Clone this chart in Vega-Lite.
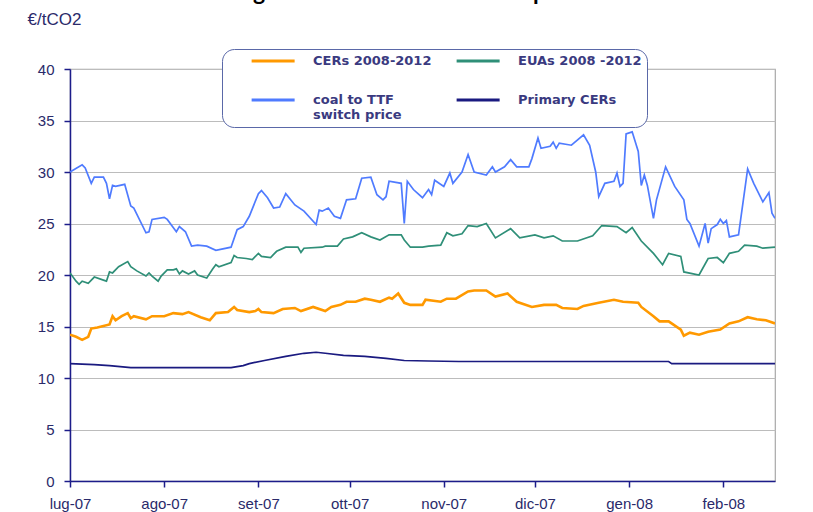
{
  "$schema": "https://vega.github.io/schema/vega-lite/v6.json",
  "autosize": "none",
  "width": 705,
  "height": 412,
  "padding": {"left": 70, "top": 69, "right": 38, "bottom": 31},
  "background": "white",
  "title": {
    "text": "Figure 3 Carbon Price Development",
    "frame": "group",
    "anchor": "middle",
    "orient": "top",
    "baseline": "alphabetic",
    "offset": 3,
    "dx": -6,
    "dy": 16,
    "font": "Lato",
    "fontSize": 23,
    "fontWeight": "bold",
    "color": "#000000"
  },
  "data": {
    "values": [
      {"date": "2007-07-01", "series": "CERs 2008-2012", "price": 14.2},
      {"date": "2007-07-03", "series": "CERs 2008-2012", "price": 14.0},
      {"date": "2007-07-05", "series": "CERs 2008-2012", "price": 13.7},
      {"date": "2007-07-07", "series": "CERs 2008-2012", "price": 14.0},
      {"date": "2007-07-08", "series": "CERs 2008-2012", "price": 14.8},
      {"date": "2007-07-10", "series": "CERs 2008-2012", "price": 14.9},
      {"date": "2007-07-14", "series": "CERs 2008-2012", "price": 15.2},
      {"date": "2007-07-15", "series": "CERs 2008-2012", "price": 16.0},
      {"date": "2007-07-16", "series": "CERs 2008-2012", "price": 15.6},
      {"date": "2007-07-18", "series": "CERs 2008-2012", "price": 16.0},
      {"date": "2007-07-20", "series": "CERs 2008-2012", "price": 16.3},
      {"date": "2007-07-21", "series": "CERs 2008-2012", "price": 15.8},
      {"date": "2007-07-22", "series": "CERs 2008-2012", "price": 16.0},
      {"date": "2007-07-26", "series": "CERs 2008-2012", "price": 15.7},
      {"date": "2007-07-28", "series": "CERs 2008-2012", "price": 16.0},
      {"date": "2007-08-01", "series": "CERs 2008-2012", "price": 16.0},
      {"date": "2007-08-04", "series": "CERs 2008-2012", "price": 16.3},
      {"date": "2007-08-07", "series": "CERs 2008-2012", "price": 16.2},
      {"date": "2007-08-09", "series": "CERs 2008-2012", "price": 16.4},
      {"date": "2007-08-13", "series": "CERs 2008-2012", "price": 15.9},
      {"date": "2007-08-16", "series": "CERs 2008-2012", "price": 15.6},
      {"date": "2007-08-18", "series": "CERs 2008-2012", "price": 16.3},
      {"date": "2007-08-22", "series": "CERs 2008-2012", "price": 16.4},
      {"date": "2007-08-24", "series": "CERs 2008-2012", "price": 16.9},
      {"date": "2007-08-25", "series": "CERs 2008-2012", "price": 16.6},
      {"date": "2007-08-29", "series": "CERs 2008-2012", "price": 16.4},
      {"date": "2007-08-31", "series": "CERs 2008-2012", "price": 16.5},
      {"date": "2007-09-01", "series": "CERs 2008-2012", "price": 16.7},
      {"date": "2007-09-02", "series": "CERs 2008-2012", "price": 16.4},
      {"date": "2007-09-06", "series": "CERs 2008-2012", "price": 16.3},
      {"date": "2007-09-09", "series": "CERs 2008-2012", "price": 16.7},
      {"date": "2007-09-13", "series": "CERs 2008-2012", "price": 16.8},
      {"date": "2007-09-15", "series": "CERs 2008-2012", "price": 16.5},
      {"date": "2007-09-19", "series": "CERs 2008-2012", "price": 16.9},
      {"date": "2007-09-23", "series": "CERs 2008-2012", "price": 16.5},
      {"date": "2007-09-25", "series": "CERs 2008-2012", "price": 16.9},
      {"date": "2007-09-28", "series": "CERs 2008-2012", "price": 17.1},
      {"date": "2007-09-30", "series": "CERs 2008-2012", "price": 17.4},
      {"date": "2007-10-03", "series": "CERs 2008-2012", "price": 17.4},
      {"date": "2007-10-06", "series": "CERs 2008-2012", "price": 17.7},
      {"date": "2007-10-08", "series": "CERs 2008-2012", "price": 17.6},
      {"date": "2007-10-11", "series": "CERs 2008-2012", "price": 17.4},
      {"date": "2007-10-14", "series": "CERs 2008-2012", "price": 17.8},
      {"date": "2007-10-15", "series": "CERs 2008-2012", "price": 17.7},
      {"date": "2007-10-17", "series": "CERs 2008-2012", "price": 18.2},
      {"date": "2007-10-19", "series": "CERs 2008-2012", "price": 17.3},
      {"date": "2007-10-21", "series": "CERs 2008-2012", "price": 17.1},
      {"date": "2007-10-25", "series": "CERs 2008-2012", "price": 17.1},
      {"date": "2007-10-26", "series": "CERs 2008-2012", "price": 17.6},
      {"date": "2007-10-31", "series": "CERs 2008-2012", "price": 17.4},
      {"date": "2007-11-02", "series": "CERs 2008-2012", "price": 17.7},
      {"date": "2007-11-05", "series": "CERs 2008-2012", "price": 17.7},
      {"date": "2007-11-09", "series": "CERs 2008-2012", "price": 18.4},
      {"date": "2007-11-11", "series": "CERs 2008-2012", "price": 18.5},
      {"date": "2007-11-15", "series": "CERs 2008-2012", "price": 18.5},
      {"date": "2007-11-18", "series": "CERs 2008-2012", "price": 17.9},
      {"date": "2007-11-22", "series": "CERs 2008-2012", "price": 18.2},
      {"date": "2007-11-25", "series": "CERs 2008-2012", "price": 17.4},
      {"date": "2007-11-30", "series": "CERs 2008-2012", "price": 16.9},
      {"date": "2007-12-04", "series": "CERs 2008-2012", "price": 17.1},
      {"date": "2007-12-08", "series": "CERs 2008-2012", "price": 17.1},
      {"date": "2007-12-10", "series": "CERs 2008-2012", "price": 16.8},
      {"date": "2007-12-15", "series": "CERs 2008-2012", "price": 16.7},
      {"date": "2007-12-17", "series": "CERs 2008-2012", "price": 17.0},
      {"date": "2007-12-22", "series": "CERs 2008-2012", "price": 17.3},
      {"date": "2007-12-27", "series": "CERs 2008-2012", "price": 17.6},
      {"date": "2007-12-30", "series": "CERs 2008-2012", "price": 17.4},
      {"date": "2008-01-04", "series": "CERs 2008-2012", "price": 17.3},
      {"date": "2008-01-05", "series": "CERs 2008-2012", "price": 16.9},
      {"date": "2008-01-09", "series": "CERs 2008-2012", "price": 16.0},
      {"date": "2008-01-11", "series": "CERs 2008-2012", "price": 15.5},
      {"date": "2008-01-14", "series": "CERs 2008-2012", "price": 15.5},
      {"date": "2008-01-18", "series": "CERs 2008-2012", "price": 14.7},
      {"date": "2008-01-19", "series": "CERs 2008-2012", "price": 14.1},
      {"date": "2008-01-21", "series": "CERs 2008-2012", "price": 14.4},
      {"date": "2008-01-24", "series": "CERs 2008-2012", "price": 14.2},
      {"date": "2008-01-27", "series": "CERs 2008-2012", "price": 14.5},
      {"date": "2008-01-31", "series": "CERs 2008-2012", "price": 14.7},
      {"date": "2008-02-03", "series": "CERs 2008-2012", "price": 15.3},
      {"date": "2008-02-06", "series": "CERs 2008-2012", "price": 15.5},
      {"date": "2008-02-09", "series": "CERs 2008-2012", "price": 15.9},
      {"date": "2008-02-12", "series": "CERs 2008-2012", "price": 15.7},
      {"date": "2008-02-15", "series": "CERs 2008-2012", "price": 15.6},
      {"date": "2008-02-18", "series": "CERs 2008-2012", "price": 15.3},

      {"date": "2007-07-01", "series": "EUAs 2008 -2012", "price": 20.2},
      {"date": "2007-07-03", "series": "EUAs 2008 -2012", "price": 19.4},
      {"date": "2007-07-04", "series": "EUAs 2008 -2012", "price": 19.1},
      {"date": "2007-07-05", "series": "EUAs 2008 -2012", "price": 19.4},
      {"date": "2007-07-07", "series": "EUAs 2008 -2012", "price": 19.2},
      {"date": "2007-07-09", "series": "EUAs 2008 -2012", "price": 19.8},
      {"date": "2007-07-12", "series": "EUAs 2008 -2012", "price": 19.5},
      {"date": "2007-07-13", "series": "EUAs 2008 -2012", "price": 19.4},
      {"date": "2007-07-14", "series": "EUAs 2008 -2012", "price": 20.3},
      {"date": "2007-07-15", "series": "EUAs 2008 -2012", "price": 20.2},
      {"date": "2007-07-17", "series": "EUAs 2008 -2012", "price": 20.8},
      {"date": "2007-07-20", "series": "EUAs 2008 -2012", "price": 21.3},
      {"date": "2007-07-21", "series": "EUAs 2008 -2012", "price": 20.8},
      {"date": "2007-07-23", "series": "EUAs 2008 -2012", "price": 20.4},
      {"date": "2007-07-26", "series": "EUAs 2008 -2012", "price": 19.9},
      {"date": "2007-07-27", "series": "EUAs 2008 -2012", "price": 20.2},
      {"date": "2007-07-28", "series": "EUAs 2008 -2012", "price": 19.9},
      {"date": "2007-07-30", "series": "EUAs 2008 -2012", "price": 19.4},
      {"date": "2007-07-31", "series": "EUAs 2008 -2012", "price": 19.9},
      {"date": "2007-08-02", "series": "EUAs 2008 -2012", "price": 20.5},
      {"date": "2007-08-04", "series": "EUAs 2008 -2012", "price": 20.5},
      {"date": "2007-08-05", "series": "EUAs 2008 -2012", "price": 20.6},
      {"date": "2007-08-06", "series": "EUAs 2008 -2012", "price": 20.1},
      {"date": "2007-08-07", "series": "EUAs 2008 -2012", "price": 20.4},
      {"date": "2007-08-09", "series": "EUAs 2008 -2012", "price": 20.1},
      {"date": "2007-08-11", "series": "EUAs 2008 -2012", "price": 20.4},
      {"date": "2007-08-12", "series": "EUAs 2008 -2012", "price": 20.0},
      {"date": "2007-08-15", "series": "EUAs 2008 -2012", "price": 19.7},
      {"date": "2007-08-17", "series": "EUAs 2008 -2012", "price": 20.6},
      {"date": "2007-08-18", "series": "EUAs 2008 -2012", "price": 21.0},
      {"date": "2007-08-19", "series": "EUAs 2008 -2012", "price": 20.8},
      {"date": "2007-08-23", "series": "EUAs 2008 -2012", "price": 21.2},
      {"date": "2007-08-24", "series": "EUAs 2008 -2012", "price": 21.9},
      {"date": "2007-08-25", "series": "EUAs 2008 -2012", "price": 21.7},
      {"date": "2007-08-28", "series": "EUAs 2008 -2012", "price": 21.6},
      {"date": "2007-08-30", "series": "EUAs 2008 -2012", "price": 21.5},
      {"date": "2007-09-01", "series": "EUAs 2008 -2012", "price": 22.1},
      {"date": "2007-09-02", "series": "EUAs 2008 -2012", "price": 21.8},
      {"date": "2007-09-05", "series": "EUAs 2008 -2012", "price": 21.7},
      {"date": "2007-09-07", "series": "EUAs 2008 -2012", "price": 22.3},
      {"date": "2007-09-10", "series": "EUAs 2008 -2012", "price": 22.7},
      {"date": "2007-09-14", "series": "EUAs 2008 -2012", "price": 22.7},
      {"date": "2007-09-15", "series": "EUAs 2008 -2012", "price": 22.2},
      {"date": "2007-09-16", "series": "EUAs 2008 -2012", "price": 22.6},
      {"date": "2007-09-22", "series": "EUAs 2008 -2012", "price": 22.7},
      {"date": "2007-09-23", "series": "EUAs 2008 -2012", "price": 22.8},
      {"date": "2007-09-27", "series": "EUAs 2008 -2012", "price": 22.8},
      {"date": "2007-09-29", "series": "EUAs 2008 -2012", "price": 23.5},
      {"date": "2007-10-02", "series": "EUAs 2008 -2012", "price": 23.7},
      {"date": "2007-10-05", "series": "EUAs 2008 -2012", "price": 24.1},
      {"date": "2007-10-08", "series": "EUAs 2008 -2012", "price": 23.7},
      {"date": "2007-10-11", "series": "EUAs 2008 -2012", "price": 23.4},
      {"date": "2007-10-14", "series": "EUAs 2008 -2012", "price": 23.9},
      {"date": "2007-10-18", "series": "EUAs 2008 -2012", "price": 23.9},
      {"date": "2007-10-19", "series": "EUAs 2008 -2012", "price": 23.4},
      {"date": "2007-10-21", "series": "EUAs 2008 -2012", "price": 22.7},
      {"date": "2007-10-25", "series": "EUAs 2008 -2012", "price": 22.7},
      {"date": "2007-10-27", "series": "EUAs 2008 -2012", "price": 22.8},
      {"date": "2007-10-31", "series": "EUAs 2008 -2012", "price": 22.9},
      {"date": "2007-11-02", "series": "EUAs 2008 -2012", "price": 24.1},
      {"date": "2007-11-04", "series": "EUAs 2008 -2012", "price": 23.8},
      {"date": "2007-11-07", "series": "EUAs 2008 -2012", "price": 24.0},
      {"date": "2007-11-09", "series": "EUAs 2008 -2012", "price": 24.8},
      {"date": "2007-11-12", "series": "EUAs 2008 -2012", "price": 24.7},
      {"date": "2007-11-15", "series": "EUAs 2008 -2012", "price": 25.0},
      {"date": "2007-11-18", "series": "EUAs 2008 -2012", "price": 23.6},
      {"date": "2007-11-23", "series": "EUAs 2008 -2012", "price": 24.5},
      {"date": "2007-11-26", "series": "EUAs 2008 -2012", "price": 23.6},
      {"date": "2007-12-01", "series": "EUAs 2008 -2012", "price": 23.9},
      {"date": "2007-12-04", "series": "EUAs 2008 -2012", "price": 23.6},
      {"date": "2007-12-07", "series": "EUAs 2008 -2012", "price": 23.8},
      {"date": "2007-12-10", "series": "EUAs 2008 -2012", "price": 23.3},
      {"date": "2007-12-15", "series": "EUAs 2008 -2012", "price": 23.3},
      {"date": "2007-12-20", "series": "EUAs 2008 -2012", "price": 23.8},
      {"date": "2007-12-23", "series": "EUAs 2008 -2012", "price": 24.8},
      {"date": "2007-12-28", "series": "EUAs 2008 -2012", "price": 24.7},
      {"date": "2007-12-31", "series": "EUAs 2008 -2012", "price": 24.1},
      {"date": "2008-01-02", "series": "EUAs 2008 -2012", "price": 24.6},
      {"date": "2008-01-05", "series": "EUAs 2008 -2012", "price": 23.3},
      {"date": "2008-01-09", "series": "EUAs 2008 -2012", "price": 22.1},
      {"date": "2008-01-12", "series": "EUAs 2008 -2012", "price": 21.0},
      {"date": "2008-01-14", "series": "EUAs 2008 -2012", "price": 22.1},
      {"date": "2008-01-18", "series": "EUAs 2008 -2012", "price": 21.8},
      {"date": "2008-01-19", "series": "EUAs 2008 -2012", "price": 20.3},
      {"date": "2008-01-24", "series": "EUAs 2008 -2012", "price": 20.0},
      {"date": "2008-01-27", "series": "EUAs 2008 -2012", "price": 21.6},
      {"date": "2008-01-30", "series": "EUAs 2008 -2012", "price": 21.7},
      {"date": "2008-02-01", "series": "EUAs 2008 -2012", "price": 21.2},
      {"date": "2008-02-03", "series": "EUAs 2008 -2012", "price": 22.1},
      {"date": "2008-02-06", "series": "EUAs 2008 -2012", "price": 22.3},
      {"date": "2008-02-08", "series": "EUAs 2008 -2012", "price": 22.9},
      {"date": "2008-02-12", "series": "EUAs 2008 -2012", "price": 22.8},
      {"date": "2008-02-14", "series": "EUAs 2008 -2012", "price": 22.6},
      {"date": "2008-02-18", "series": "EUAs 2008 -2012", "price": 22.7},

      {"date": "2007-07-01", "series": "coal to TTF switch price", "price": 30.0},
      {"date": "2007-07-05", "series": "coal to TTF switch price", "price": 30.7},
      {"date": "2007-07-06", "series": "coal to TTF switch price", "price": 30.4},
      {"date": "2007-07-08", "series": "coal to TTF switch price", "price": 28.9},
      {"date": "2007-07-09", "series": "coal to TTF switch price", "price": 29.5},
      {"date": "2007-07-12", "series": "coal to TTF switch price", "price": 29.5},
      {"date": "2007-07-13", "series": "coal to TTF switch price", "price": 28.9},
      {"date": "2007-07-14", "series": "coal to TTF switch price", "price": 27.4},
      {"date": "2007-07-15", "series": "coal to TTF switch price", "price": 28.7},
      {"date": "2007-07-16", "series": "coal to TTF switch price", "price": 28.6},
      {"date": "2007-07-19", "series": "coal to TTF switch price", "price": 28.8},
      {"date": "2007-07-21", "series": "coal to TTF switch price", "price": 26.7},
      {"date": "2007-07-22", "series": "coal to TTF switch price", "price": 26.5},
      {"date": "2007-07-26", "series": "coal to TTF switch price", "price": 24.1},
      {"date": "2007-07-27", "series": "coal to TTF switch price", "price": 24.2},
      {"date": "2007-07-28", "series": "coal to TTF switch price", "price": 25.4},
      {"date": "2007-08-01", "series": "coal to TTF switch price", "price": 25.6},
      {"date": "2007-08-02", "series": "coal to TTF switch price", "price": 25.4},
      {"date": "2007-08-05", "series": "coal to TTF switch price", "price": 24.2},
      {"date": "2007-08-06", "series": "coal to TTF switch price", "price": 24.7},
      {"date": "2007-08-08", "series": "coal to TTF switch price", "price": 24.2},
      {"date": "2007-08-10", "series": "coal to TTF switch price", "price": 22.8},
      {"date": "2007-08-12", "series": "coal to TTF switch price", "price": 22.9},
      {"date": "2007-08-15", "series": "coal to TTF switch price", "price": 22.8},
      {"date": "2007-08-18", "series": "coal to TTF switch price", "price": 22.4},
      {"date": "2007-08-23", "series": "coal to TTF switch price", "price": 22.7},
      {"date": "2007-08-25", "series": "coal to TTF switch price", "price": 24.4},
      {"date": "2007-08-27", "series": "coal to TTF switch price", "price": 24.7},
      {"date": "2007-08-29", "series": "coal to TTF switch price", "price": 25.7},
      {"date": "2007-09-01", "series": "coal to TTF switch price", "price": 27.9},
      {"date": "2007-09-02", "series": "coal to TTF switch price", "price": 28.2},
      {"date": "2007-09-04", "series": "coal to TTF switch price", "price": 27.5},
      {"date": "2007-09-06", "series": "coal to TTF switch price", "price": 26.5},
      {"date": "2007-09-08", "series": "coal to TTF switch price", "price": 26.6},
      {"date": "2007-09-10", "series": "coal to TTF switch price", "price": 27.9},
      {"date": "2007-09-13", "series": "coal to TTF switch price", "price": 26.8},
      {"date": "2007-09-16", "series": "coal to TTF switch price", "price": 26.2},
      {"date": "2007-09-20", "series": "coal to TTF switch price", "price": 24.9},
      {"date": "2007-09-21", "series": "coal to TTF switch price", "price": 26.3},
      {"date": "2007-09-22", "series": "coal to TTF switch price", "price": 26.2},
      {"date": "2007-09-24", "series": "coal to TTF switch price", "price": 26.5},
      {"date": "2007-09-26", "series": "coal to TTF switch price", "price": 25.7},
      {"date": "2007-09-28", "series": "coal to TTF switch price", "price": 25.5},
      {"date": "2007-09-30", "series": "coal to TTF switch price", "price": 27.3},
      {"date": "2007-10-03", "series": "coal to TTF switch price", "price": 27.4},
      {"date": "2007-10-05", "series": "coal to TTF switch price", "price": 29.4},
      {"date": "2007-10-08", "series": "coal to TTF switch price", "price": 29.5},
      {"date": "2007-10-10", "series": "coal to TTF switch price", "price": 27.8},
      {"date": "2007-10-12", "series": "coal to TTF switch price", "price": 27.3},
      {"date": "2007-10-13", "series": "coal to TTF switch price", "price": 27.6},
      {"date": "2007-10-14", "series": "coal to TTF switch price", "price": 29.1},
      {"date": "2007-10-18", "series": "coal to TTF switch price", "price": 28.9},
      {"date": "2007-10-19", "series": "coal to TTF switch price", "price": 25.0},
      {"date": "2007-10-20", "series": "coal to TTF switch price", "price": 29.1},
      {"date": "2007-10-22", "series": "coal to TTF switch price", "price": 28.3},
      {"date": "2007-10-25", "series": "coal to TTF switch price", "price": 27.5},
      {"date": "2007-10-27", "series": "coal to TTF switch price", "price": 28.3},
      {"date": "2007-10-28", "series": "coal to TTF switch price", "price": 27.8},
      {"date": "2007-10-29", "series": "coal to TTF switch price", "price": 29.2},
      {"date": "2007-11-01", "series": "coal to TTF switch price", "price": 28.6},
      {"date": "2007-11-03", "series": "coal to TTF switch price", "price": 29.9},
      {"date": "2007-11-04", "series": "coal to TTF switch price", "price": 28.9},
      {"date": "2007-11-07", "series": "coal to TTF switch price", "price": 30.0},
      {"date": "2007-11-09", "series": "coal to TTF switch price", "price": 31.7},
      {"date": "2007-11-11", "series": "coal to TTF switch price", "price": 30.0},
      {"date": "2007-11-15", "series": "coal to TTF switch price", "price": 29.7},
      {"date": "2007-11-17", "series": "coal to TTF switch price", "price": 30.5},
      {"date": "2007-11-18", "series": "coal to TTF switch price", "price": 30.0},
      {"date": "2007-11-21", "series": "coal to TTF switch price", "price": 30.5},
      {"date": "2007-11-23", "series": "coal to TTF switch price", "price": 31.2},
      {"date": "2007-11-25", "series": "coal to TTF switch price", "price": 30.5},
      {"date": "2007-11-29", "series": "coal to TTF switch price", "price": 30.5},
      {"date": "2007-11-30", "series": "coal to TTF switch price", "price": 31.3},
      {"date": "2007-12-02", "series": "coal to TTF switch price", "price": 33.3},
      {"date": "2007-12-03", "series": "coal to TTF switch price", "price": 32.3},
      {"date": "2007-12-06", "series": "coal to TTF switch price", "price": 32.5},
      {"date": "2007-12-07", "series": "coal to TTF switch price", "price": 32.9},
      {"date": "2007-12-08", "series": "coal to TTF switch price", "price": 32.3},
      {"date": "2007-12-09", "series": "coal to TTF switch price", "price": 32.8},
      {"date": "2007-12-13", "series": "coal to TTF switch price", "price": 32.6},
      {"date": "2007-12-17", "series": "coal to TTF switch price", "price": 33.6},
      {"date": "2007-12-19", "series": "coal to TTF switch price", "price": 32.6},
      {"date": "2007-12-21", "series": "coal to TTF switch price", "price": 30.0},
      {"date": "2007-12-22", "series": "coal to TTF switch price", "price": 27.6},
      {"date": "2007-12-24", "series": "coal to TTF switch price", "price": 28.9},
      {"date": "2007-12-27", "series": "coal to TTF switch price", "price": 29.1},
      {"date": "2007-12-28", "series": "coal to TTF switch price", "price": 29.9},
      {"date": "2007-12-29", "series": "coal to TTF switch price", "price": 28.6},
      {"date": "2007-12-30", "series": "coal to TTF switch price", "price": 28.9},
      {"date": "2007-12-31", "series": "coal to TTF switch price", "price": 33.7},
      {"date": "2008-01-02", "series": "coal to TTF switch price", "price": 33.9},
      {"date": "2008-01-04", "series": "coal to TTF switch price", "price": 32.0},
      {"date": "2008-01-05", "series": "coal to TTF switch price", "price": 28.7},
      {"date": "2008-01-06", "series": "coal to TTF switch price", "price": 29.7},
      {"date": "2008-01-07", "series": "coal to TTF switch price", "price": 28.7},
      {"date": "2008-01-09", "series": "coal to TTF switch price", "price": 25.5},
      {"date": "2008-01-10", "series": "coal to TTF switch price", "price": 27.3},
      {"date": "2008-01-13", "series": "coal to TTF switch price", "price": 30.5},
      {"date": "2008-01-16", "series": "coal to TTF switch price", "price": 28.6},
      {"date": "2008-01-19", "series": "coal to TTF switch price", "price": 27.3},
      {"date": "2008-01-20", "series": "coal to TTF switch price", "price": 25.4},
      {"date": "2008-01-21", "series": "coal to TTF switch price", "price": 25.0},
      {"date": "2008-01-24", "series": "coal to TTF switch price", "price": 22.8},
      {"date": "2008-01-26", "series": "coal to TTF switch price", "price": 25.0},
      {"date": "2008-01-27", "series": "coal to TTF switch price", "price": 23.1},
      {"date": "2008-01-28", "series": "coal to TTF switch price", "price": 24.5},
      {"date": "2008-01-30", "series": "coal to TTF switch price", "price": 24.9},
      {"date": "2008-01-31", "series": "coal to TTF switch price", "price": 25.4},
      {"date": "2008-02-01", "series": "coal to TTF switch price", "price": 25.0},
      {"date": "2008-02-02", "series": "coal to TTF switch price", "price": 25.3},
      {"date": "2008-02-03", "series": "coal to TTF switch price", "price": 23.7},
      {"date": "2008-02-06", "series": "coal to TTF switch price", "price": 23.9},
      {"date": "2008-02-09", "series": "coal to TTF switch price", "price": 30.3},
      {"date": "2008-02-11", "series": "coal to TTF switch price", "price": 28.9},
      {"date": "2008-02-14", "series": "coal to TTF switch price", "price": 27.1},
      {"date": "2008-02-16", "series": "coal to TTF switch price", "price": 28.0},
      {"date": "2008-02-17", "series": "coal to TTF switch price", "price": 26.0},
      {"date": "2008-02-18", "series": "coal to TTF switch price", "price": 25.5},

      {"date": "2007-07-01", "series": "Primary CERs", "price": 11.4},
      {"date": "2007-07-09", "series": "Primary CERs", "price": 11.3},
      {"date": "2007-07-14", "series": "Primary CERs", "price": 11.2},
      {"date": "2007-07-21", "series": "Primary CERs", "price": 11.0},
      {"date": "2007-08-23", "series": "Primary CERs", "price": 11.0},
      {"date": "2007-08-27", "series": "Primary CERs", "price": 11.2},
      {"date": "2007-08-29", "series": "Primary CERs", "price": 11.4},
      {"date": "2007-09-03", "series": "Primary CERs", "price": 11.7},
      {"date": "2007-09-10", "series": "Primary CERs", "price": 12.1},
      {"date": "2007-09-16", "series": "Primary CERs", "price": 12.4},
      {"date": "2007-09-20", "series": "Primary CERs", "price": 12.5},
      {"date": "2007-09-23", "series": "Primary CERs", "price": 12.4},
      {"date": "2007-09-29", "series": "Primary CERs", "price": 12.2},
      {"date": "2007-10-06", "series": "Primary CERs", "price": 12.1},
      {"date": "2007-10-13", "series": "Primary CERs", "price": 11.9},
      {"date": "2007-10-19", "series": "Primary CERs", "price": 11.7},
      {"date": "2007-10-27", "series": "Primary CERs", "price": 11.65},
      {"date": "2007-11-06", "series": "Primary CERs", "price": 11.6},
      {"date": "2008-01-14", "series": "Primary CERs", "price": 11.6},
      {"date": "2008-01-15", "series": "Primary CERs", "price": 11.4},
      {"date": "2008-02-18", "series": "Primary CERs", "price": 11.4}
    ]
  },
  "mark": {"type": "line", "clip": true},
  "encoding": {
    "x": {
      "field": "date",
      "type": "temporal",
      "scale": {
        "type": "utc",
        "domain": [
          {"year": 2007, "month": 7, "date": 1, "utc": true},
          {"year": 2008, "month": 2, "date": 18, "utc": true}
        ]
      },
      "axis": {
        "title": null,
        "values": [
          {"year": 2007, "month": 7, "date": 1, "utc": true},
          {"year": 2007, "month": 8, "date": 1, "utc": true},
          {"year": 2007, "month": 9, "date": 1, "utc": true},
          {"year": 2007, "month": 10, "date": 1, "utc": true},
          {"year": 2007, "month": 11, "date": 1, "utc": true},
          {"year": 2007, "month": 12, "date": 1, "utc": true},
          {"year": 2008, "month": 1, "date": 1, "utc": true},
          {"year": 2008, "month": 2, "date": 1, "utc": true}
        ],
        "labelExpr": "['gen','feb','mar','apr','mag','giu','lug','ago','set','ott','nov','dic'][utcmonth(datum.value)] + '-' + utcFormat(datum.value, '%y')",
        "grid": false,
        "domainColor": "#1c1c8a",
        "domainWidth": 1.5,
        "tickColor": "#1c1c8a",
        "tickWidth": 1.5,
        "tickSize": 6,
        "labelFont": "Liberation Sans",
        "labelFontSize": 15,
        "labelColor": "#2a2a6a",
        "labelPadding": 9,
        "labelFlush": false,
        "labelOverlap": false
      }
    },
    "y": {
      "field": "price",
      "type": "quantitative",
      "scale": {"domain": [0, 40], "nice": false, "zero": true},
      "axis": {
        "title": "€/tCO2",
        "titleAngle": 0,
        "titleAlign": "left",
        "titleBaseline": "middle",
        "titleX": -43,
        "titleY": -50,
        "titleFont": "Liberation Sans",
        "titleFontSize": 17,
        "titleFontWeight": "normal",
        "titleColor": "#2a2a6a",
        "values": [0, 5, 10, 15, 20, 25, 30, 35, 40],
        "grid": true,
        "gridColor": "#bcbcbc",
        "gridWidth": 1.2,
        "domainColor": "#1c1c8a",
        "domainWidth": 1.5,
        "tickColor": "#1c1c8a",
        "tickWidth": 1.5,
        "tickSize": 6,
        "labelFont": "Liberation Sans",
        "labelFontSize": 15,
        "labelColor": "#2a2a6a",
        "labelPadding": 10
      }
    },
    "color": {
      "field": "series",
      "type": "nominal",
      "scale": {
        "domain": ["CERs 2008-2012", "EUAs 2008 -2012", "coal to TTF switch price", "Primary CERs"],
        "range": ["#FF9900", "#2F8F78", "#4F7BFF", "#1A1A80"]
      },
      "legend": {
        "title": null,
        "orient": "none",
        "legendX": 152,
        "legendY": -20,
        "direction": "horizontal",
        "columns": 2,
        "symbolType": "M-1,0H7",
        "symbolSize": 115.6,
        "symbolStrokeWidth": 3,
        "symbolOffset": 23,
        "labelOffset": 49,
        "labelFont": "DejaVu Sans",
        "labelFontSize": 13,
        "labelFontWeight": "bold",
        "labelColor": "#3a3a80",
        "labelLimit": 200,
        "labelExpr": "datum.label == 'coal to TTF switch price' ? ['coal to TTF', 'switch price'] : datum.label",
        "columnPadding": -8,
        "rowPadding": 25,
        "padding": 5,
        "fillColor": "white",
        "strokeColor": "#5a68a8",
        "cornerRadius": 12
      }
    },
    "strokeWidth": {
      "condition": {"test": "datum.series == 'CERs 2008-2012'", "value": 2.6},
      "value": 1.7
    }
  },
  "config": {
    "view": {"stroke": "#a8a8a8", "strokeWidth": 1.2}
  }
}
